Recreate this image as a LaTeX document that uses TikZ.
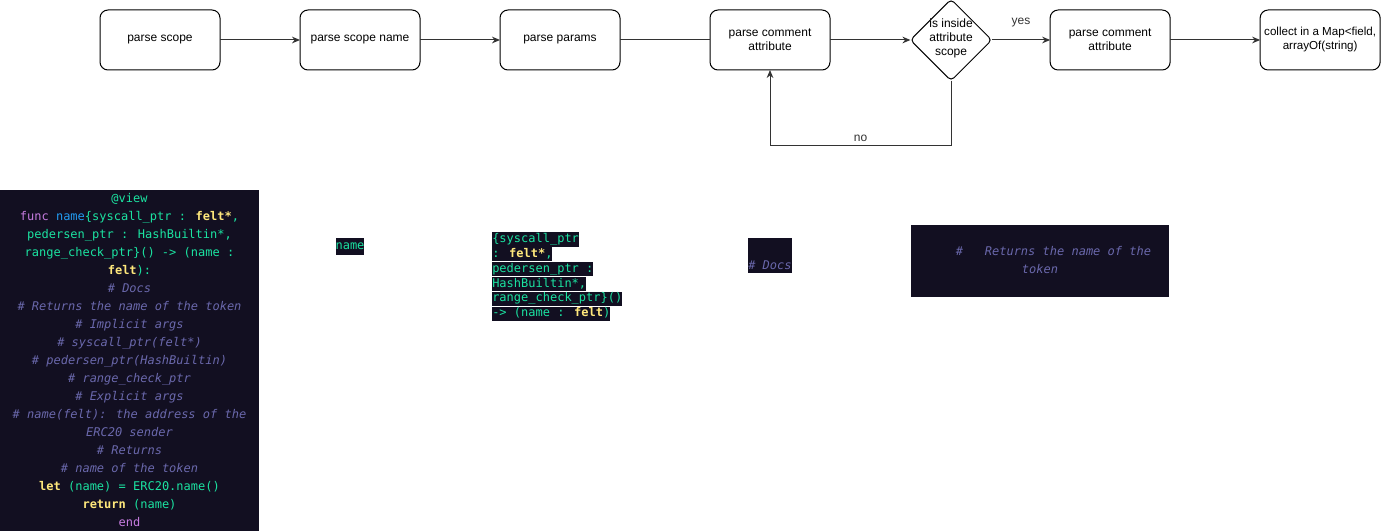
\documentclass[tikz,border=0pt]{standalone}
\usepackage{fontspec}
\setmainfont{Liberation Sans}
\newfontfamily\codefont{DejaVu Sans Mono}
\usetikzlibrary{positioning}
\usetikzlibrary{arrows.meta,shapes.geometric}

\definecolor{codebg}{HTML}{120F21}
\definecolor{codegreen}{HTML}{1BE3A1}
\definecolor{codeyellow}{HTML}{FFE87C}
\definecolor{codepurple}{HTML}{C67CE0}
\definecolor{codeblue}{HTML}{229CF2}
\definecolor{codecomment}{HTML}{6A68AC}

\newcommand{\cgreen}[1]{\textcolor{codegreen}{#1}}
\newcommand{\cyellow}[1]{\textcolor{codeyellow}{\bfseries #1}}
\newcommand{\cpurple}[1]{\textcolor{codepurple}{#1}}
\newcommand{\cblue}[1]{\textcolor{codeblue}{#1}}
\newcommand{\ccomment}[1]{\textcolor{codecomment}{\itshape #1}}

\begin{document}
\begin{tikzpicture}
    [x=0.75pt, y=-0.75pt,
      stepbox/.style={draw, line width=0.75pt, outer sep=0pt, rounded corners=6pt, minimum width=90pt, minimum height=45pt, align=center, font=\fontsize{9}{10.5}\selectfont},
      decision/.style={diamond, draw, line width=0.75pt, outer sep=0pt, rounded corners=3pt, aspect=1, minimum size=61pt, inner sep=0pt},
      darc/.style={-{Stealth[length=6pt,width=5pt]}, black!80, line width=0.75pt},
      uarc/.style={-, black!80, line width=0.75pt},
      lbl/.style={font=\fontsize{9}{10.5}\selectfont},
      codepanel/.style={fill=codebg, inner sep=0pt, font=\codefont\fontsize{9}{13.5}\selectfont},
      codetext/.style={inner sep=0pt, font=\codefont\fontsize{9}{13.5}\selectfont},
      hl/.style={fill=codebg, inner xsep=0pt, inner ysep=0pt, text height=7.6pt, text depth=3.2pt, font=\codefont\fontsize{9}{10}\selectfont}]

    \path[use as bounding box, fill=white] (0,0) rectangle (1381,531);

    % flow
    \node (scope) at (160,40) [stepbox] {parse scope};
    \node (scopename) [stepbox, right=60pt of scope] {parse scope name};
    \node (params) [stepbox, right=60pt of scopename] {parse params};
    \node (comment) [stepbox, right=67.5pt of params] {parse comment\\attribute};
    \node (inside) [decision, right=60.3pt of comment] {};
    \node (insidetext) at ([yshift=1.5pt]inside) [lbl, align=center] {is inside\\attribute\\scope};
    \node (comment2) [stepbox, right=43.8pt of inside] {parse comment\\attribute};
    \node (collect) [stepbox, right=67.5pt of comment2, inner xsep=1pt, font=\fontsize{8.7}{10.5}\selectfont] {collect in a Map<field,\\arrayOf(string)};

    \draw[darc] (scope) -- (scopename);
    \draw[darc] (scopename) -- (params);
    \draw[uarc] (params) -- (comment);
    \draw[darc] (comment) -- (inside);
    \draw[darc] (inside) -- node[lbl, above=6pt] {yes} (comment2);
    \draw[darc] (comment2) -- (collect);
    \draw[darc] (inside.south) -- ++(0,64.5) -| node[lbl, pos=0.25, above=-1pt] {no} (comment.south);

    % code
    \node (source) at (129.5,360.5) [codepanel, minimum width=194.25pt, minimum height=255.75pt, align=center] {%
      \cgreen{@view}\\
      \cpurple{func} \cblue{name}\cgreen{\{syscall\_ptr :} \cyellow{felt*}\cgreen{,}\\
      \cgreen{pedersen\_ptr : HashBuiltin*,}\\
      \cgreen{range\_check\_ptr\}() -> (name :}\\
      \cyellow{felt}\cgreen{):}\\
      \ccomment{\# Docs}\\
      \ccomment{\# Returns the name of the token}\\
      \ccomment{\# Implicit args}\\
      \ccomment{\# syscall\_ptr(felt*)}\\
      \ccomment{\# pedersen\_ptr(HashBuiltin)}\\
      \ccomment{\# range\_check\_ptr}\\
      \ccomment{\# Explicit args}\\
      \ccomment{\# name(felt): the address of the}\\
      \ccomment{ERC20 sender}\\
      \ccomment{\# Returns}\\
      \ccomment{\# name of the token}\\
      \cyellow{let} \cgreen{(name) = ERC20.name()}\\
      \cyellow{return} \cgreen{(name)}\\
      \cpurple{end}};

    \node (namepart) at (350,246.5) [hl, inner ysep=1.2pt] {\cgreen{name}};

    \node (m1) at (492,239.3) [hl, anchor=west] {\cgreen{\{syscall\_ptr}};
    \node (m2) [hl, below=0pt of m1.south west, anchor=north west] {\cgreen{:} \cyellow{felt*}\cgreen{,}};
    \node (m3) [hl, below=0pt of m2.south west, anchor=north west] {\cgreen{pedersen\_ptr :}};
    \node (m4) [hl, below=0pt of m3.south west, anchor=north west] {\cgreen{HashBuiltin*,}};
    \node (m5) [hl, below=0pt of m4.south west, anchor=north west] {\cgreen{range\_check\_ptr\}()}};
    \node (m6) [hl, below=0pt of m5.south west, anchor=north west] {\cgreen{-> (name :} \cyellow{felt}\cgreen{)}};

    \node (docs) at (748,238) [codepanel, anchor=north west, text height=23.25pt, text depth=3pt] {\ccomment{\# Docs}};

    \node (returns) at (1040,261) [codepanel, minimum width=193.5pt, minimum height=54pt] {};
    \node (ret1) at (1053.5,251) [codetext] {\ccomment{\#\ \ \ Returns the name of the}};
    \node (ret2) at (1040,269) [codetext] {\ccomment{token}};
  \end{tikzpicture}
\end{document}
